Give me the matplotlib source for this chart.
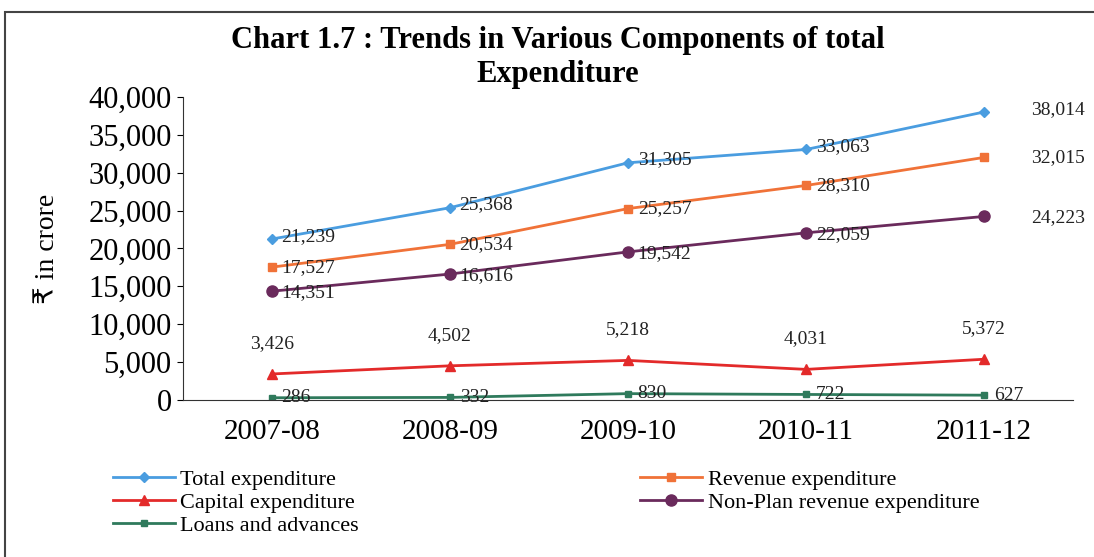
import numpy as np
import matplotlib.pyplot as plt

plt.rcParams['font.family'] = ['Liberation Serif', 'DejaVu Sans']

years = ['2007-08', '2008-09', '2009-10', '2010-11', '2011-12']
total_exp = [21239, 25368, 31305, 33063, 38014]
revenue_exp = [17527, 20534, 25257, 28310, 32015]
capital_exp = [3426, 4502, 5218, 4031, 5372]
nonplan_exp = [14351, 16616, 19542, 22059, 24223]
loans_adv = [286, 332, 830, 722, 627]

fig = plt.figure(figsize=(10.94, 5.57), dpi=100)
ax = fig.add_axes([0.167, 0.282, 0.814, 0.544])
x = np.arange(len(years))

series = [
    (total_exp, 'Total expenditure', '#4a9de0', 'D', 5),
    (revenue_exp, 'Revenue expenditure', '#f07238', 's', 6),
    (capital_exp, 'Capital expenditure', '#e32a2a', '^', 7),
    (nonplan_exp, 'Non-Plan revenue expenditure', '#6a2a5c', 'o', 8),
    (loans_adv, 'Loans and advances', '#2f7a5c', 's', 5),
]
handles = {}
for vals, name, col, mk, ms in series:
    h, = ax.plot(x, vals, color=col, marker=mk, markersize=ms, linewidth=2, label=name)
    handles[name] = h

def lab(vals, dx, dy, last_dx=None):
    for i, (xi, v) in enumerate(zip(x, vals)):
        off = last_dx if (last_dx is not None and i == len(vals) - 1) else dx
        ax.annotate(f'{v:,}', (xi, v), xytext=(off, dy), textcoords='offset points',
                    fontsize=14, ha='left', va='center', color='#222222')

lab(total_exp, 7, 2, last_dx=34)
lab(revenue_exp, 7, 0, last_dx=34)
lab(nonplan_exp, 7, -1, last_dx=34)
lab(loans_adv, 7, 0)
for xi, v in zip(x, capital_exp):
    ax.annotate(f'{v:,}', (xi, v), xytext=(0, 22), textcoords='offset points',
                fontsize=14, ha='center', va='center', color='#222222')

ax.set_xlim(-0.5, 4.5)
ax.set_ylim(0, 40000)
ax.set_yticks(range(0, 40001, 5000))
ax.set_yticklabels([f'{t:,}' for t in range(0, 40001, 5000)], fontsize=22)
ax.set_xticks(x)
ax.set_xticklabels(years, fontsize=21)
ax.tick_params(axis='x', length=0, pad=14)
ax.tick_params(axis='y', length=4, direction='out', pad=4)
for s in ['top', 'right']:
    ax.spines[s].set_visible(False)
ax.spines['bottom'].set_color('#333333')
ax.spines['left'].set_color('#333333')
ax.set_ylabel('₹ in crore', fontsize=20, labelpad=20)

fig.text(0.51, 0.897, 'Chart 1.7 : Trends in Various Components of total\nExpenditure',
         ha='center', va='center', fontsize=22, fontweight='bold', linespacing=1.2)

leg_kw = dict(loc='upper left', frameon=False, fontsize=16, handlelength=2.8,
              handletextpad=0.25, labelspacing=0.12, borderaxespad=0, borderpad=0)
fig.legend([handles['Total expenditure'], handles['Capital expenditure'], handles['Loans and advances']],
           ['Total expenditure', 'Capital expenditure', 'Loans and advances'],
           bbox_to_anchor=(0.103, 0.158), **leg_kw)
fig.legend([handles['Revenue expenditure'], handles['Non-Plan revenue expenditure']],
           ['Revenue expenditure', 'Non-Plan revenue expenditure'],
           bbox_to_anchor=(0.585, 0.158), **leg_kw)

fig.patches.append(plt.Rectangle((0.005, -0.02), 1.0, 0.998, transform=fig.transFigure,
                                 fill=False, edgecolor='#444444', linewidth=1.5))

fig.savefig('out.png', dpi=100)
